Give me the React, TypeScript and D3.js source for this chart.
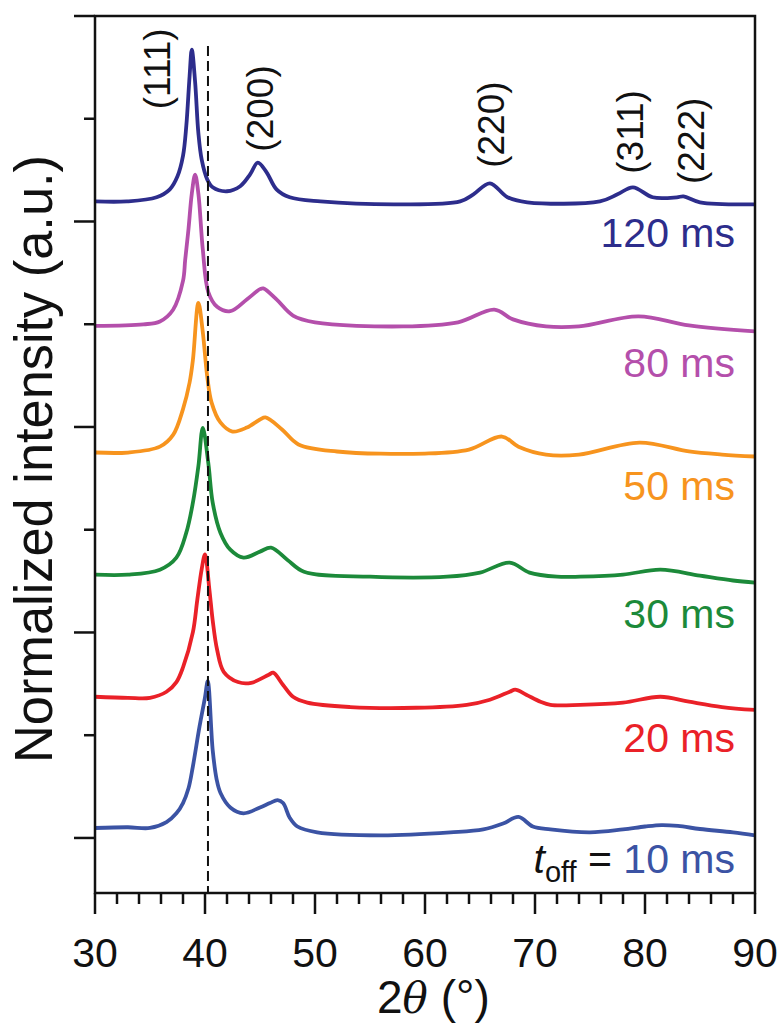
import React from 'react';
import * as d3 from 'd3';

// ---------- data ----------
const X_DOMAIN: [number, number] = [30, 90];
const Y_DOMAIN: [number, number] = [-37.5, 560];
const xMajorTicks = [30, 40, 50, 60, 70, 80, 90];
const xMinorTicks = d3.range(32, 90, 2).filter(v => v % 10 !== 0);
const yMajorTicks = [0, 140, 280, 420, 560];
const yMinorTicks = [70, 210, 350, 490];

const seriesNames = ['10 ms', '20 ms', '30 ms', '50 ms', '80 ms', '120 ms'];
const seriesColors = ['#3b53a4', '#ea2128', '#1c8a3a', '#f7941e', '#b44fab', '#2d2d8c'];
const seriesOffsets = [6.8, 96.2, 179.4, 262.6, 349.9, 435.1];

const ms10: [number, number][] = [
  [30, 0], [33, 0.5], [35, 0], [36.5, 4], [37.4, 10], [38.0, 17], [38.5, 27], [38.9, 42], [39.5, 69], [40.0, 89],
  [40.25, 100], [40.7, 53], [41.06, 33], [41.4, 24], [42.3, 14], [43.5, 10], [45.0, 14], [45.9, 17], [46.6, 19],
  [47.1, 17], [47.7, 7], [48.4, 1], [50.2, -3], [56, -5], [62.3, -3], [65.3, -1], [67.1, 3], [68.5, 7.5], [69.8, 1],
  [71.4, -1], [75, -3], [78, -1], [80, 1], [81.5, 2], [83, 1.4], [85, -0.7], [88, -3], [90, -5],
];
const ms20: [number, number][] = [
  [30, 0], [33, -0.7], [35, -0.7], [36.5, 3.4], [37.4, 10], [38.0, 20], [38.9, 44], [39.3, 66], [39.7, 87], [40.0, 97],
  [40.4, 73], [40.7, 52], [41.1, 32], [41.7, 17], [43.0, 10], [44.2, 9.5], [45.8, 15], [46.2, 16.4], [47.1, 8], [48.0, 0],
  [49.3, -4], [53.2, -7], [59.2, -7.5], [63.8, -5.5], [65.9, -2], [67.7, 3.4], [68.2, 4.8], [69.2, 1.4], [70.5, -3.4],
  [71.4, -5.5], [74.1, -5.5], [78, -4], [81.4, 0], [84, -3.4], [87, -7], [90, -9],
];
const ms30: [number, number][] = [
  [30, 0], [33, 0], [35.9, 3.4], [37.4, 11.6], [38.3, 28.6], [38.9, 49], [39.4, 74], [39.8, 100], [40.3, 76], [40.7, 49],
  [41.4, 28.6], [42.3, 17], [43.5, 11.6], [45.0, 15.7], [46.0, 18.4], [47.5, 10], [49.0, 2], [55, -1.4], [62, -1.4],
  [65, 1.4], [67.7, 8.2], [69.5, 1.4], [72, -1.4], [74.1, -1.4], [78, 0], [81.4, 3.4], [85, -0.7], [88, -4], [90, -5.5],
];
const ms50: [number, number][] = [
  [30, 0], [33, 0], [35.9, 4], [37.1, 12], [38.0, 29.6], [38.6, 47.7], [38.9, 63], [39.4, 102], [39.8, 82], [40.2, 52],
  [40.6, 34], [41.4, 20.5], [42.5, 14.3], [43.8, 17], [45.0, 22.5], [45.5, 23.9], [47.0, 15.7], [48.5, 5.5], [52, 0.7],
  [60, -0.7], [64, 2], [67, 10.9], [68.5, 4], [71, -1.4], [74, -1.4], [79.5, 6.8], [84, 0.7], [87, -1.4], [90, -2.7],
];
const ms80: [number, number][] = [
  [30, -1], [34.4, 0], [35.9, 2], [37.1, 10], [38.0, 29.6], [38.2, 44], [38.5, 65], [38.8, 89], [39.1, 102], [39.4, 89],
  [39.8, 51], [40.3, 22], [41.1, 12], [42.3, 9], [43.8, 17], [45.0, 24], [45.3, 24.5], [46.5, 17], [48, 6], [50, 1.4],
  [58, -1.4], [63, 1.4], [66.3, 10], [68, 3.4], [71, -1.4], [74, -1.4], [79.4, 5.5], [84, -0.7], [90, -4.8],
];
const ms120: [number, number][] = [
  [30, -1.4], [32.9, -1.4], [35.6, 1.4], [36.8, 6.8], [37.5, 15.7], [38.0, 29.6], [38.3, 50], [38.6, 84], [38.8, 102],
  [39.1, 80], [39.4, 45], [39.7, 27], [40.2, 13.6], [40.7, 8.2], [42.0, 5.5], [43.2, 8.9], [44.1, 17], [44.8, 25],
  [45.6, 18.4], [46.5, 6.8], [47.7, 1.4], [50.5, -1.4], [57.7, -3.4], [63.2, -1.4], [64.4, 3.4], [65.9, 10.9], [67.5, 1.4],
  [69.3, -2], [75.9, -1.4], [77.5, 3.4], [78.9, 8.2], [80.7, 1.4], [82.9, 1.4], [83.5, 2], [85, -2], [90, -3.4],
];
const seriesData = [ms10, ms20, ms30, ms50, ms80, ms120];

const peakLabels = ['(111)', '(200)', '(220)', '(311)', '(222)'];
const peakLabelTheta = [35.64, 45.09, 66.09, 78.64, 84.27];
const peakLabelValue = [524, 497, 486, 481, 475];
const referenceTheta = 40.27;

// ---------- layout ----------
const W = 783;
const H = 1023;
const LEFT = 95;
const RIGHT = 755;
const TOP = 16;
const BOTTOM = 893;
const FONT = '"Liberation Sans", Arial, Helvetica, sans-serif';
const labelBaselines = [873, 752, 628, 500, 377, 247];

export default function App() {
  const x = d3.scaleLinear().domain(X_DOMAIN).range([LEFT, RIGHT]);
  const y = d3.scaleLinear().domain(Y_DOMAIN).range([BOTTOM, TOP]);
  const line = d3
    .line<[number, number]>()
    .x(d => x(d[0]))
    .y(d => d[1])
    .curve(d3.curveCatmullRom.alpha(0.5));

  return (
    <svg
      width={W}
      height={H}
      viewBox={`0 0 ${W} ${H}`}
      style={{ position: 'absolute', left: 0, top: 0, background: '#fff' }}
      fontFamily={FONT}
    >
      {/* curves */}
      {seriesData.map((s, i) => (
        <path
          key={seriesNames[i]}
          d={line(s.map(p => [p[0], y(p[1] + seriesOffsets[i])] as [number, number])) || ''}
          fill="none"
          stroke={seriesColors[i]}
          strokeWidth={3.8}
          strokeLinejoin="round"
        />
      ))}

      {/* reference dashed line */}
      <line
        x1={x(referenceTheta)}
        x2={x(referenceTheta)}
        y1={46}
        y2={BOTTOM}
        stroke="#111"
        strokeWidth={2}
        strokeDasharray="10,5"
      />

      {/* frame */}
      <rect x={LEFT} y={TOP} width={RIGHT - LEFT} height={BOTTOM - TOP} fill="none" stroke="#111" strokeWidth={2.5} />

      {/* y ticks */}
      {yMajorTicks.map(v => (
        <line key={'ym' + v} x1={LEFT - 21} x2={LEFT} y1={y(v)} y2={y(v)} stroke="#111" strokeWidth={2.5} />
      ))}
      {yMinorTicks.map(v => (
        <line key={'yn' + v} x1={LEFT - 11} x2={LEFT} y1={y(v)} y2={y(v)} stroke="#111" strokeWidth={2.5} />
      ))}

      {/* x ticks */}
      {xMajorTicks.map(v => (
        <g key={'xm' + v}>
          <line x1={x(v)} x2={x(v)} y1={BOTTOM} y2={BOTTOM + 21} stroke="#111" strokeWidth={2.5} />
          <text x={x(v)} y={967} textAnchor="middle" fontSize={41} fill="#111">
            {v}
          </text>
        </g>
      ))}
      {xMinorTicks.map(v => (
        <line key={'xn' + v} x1={x(v)} x2={x(v)} y1={BOTTOM} y2={BOTTOM + 11} stroke="#111" strokeWidth={2.5} />
      ))}

      {/* axis titles */}
      <text x={377} y={1013} fontSize={46} fill="#111">
        <tspan>2</tspan>
        <tspan fontStyle="italic" fontFamily='"DejaVu Serif", serif' fontSize={42}>θ</tspan>
        <tspan> (°)</tspan>
      </text>
      <text
        transform="translate(52,459) rotate(-90)"
        textAnchor="middle"
        fontSize={54}
        fill="#111"
        textLength={608}
        lengthAdjust="spacingAndGlyphs"
      >
        Normalized intensity (a.u.)
      </text>

      {/* peak labels */}
      {peakLabels.map((t, i) => (
        <text
          key={t + i}
          transform={`translate(${x(peakLabelTheta[i])},${y(peakLabelValue[i])}) rotate(-90)`}
          textAnchor="middle"
          dominantBaseline="central"
          fontSize={37}
          fill="#111"
        >
          {t}
        </text>
      ))}

      {/* series labels */}
      {seriesNames.map((n, i) =>
        i === 0 ? (
          <text key={n} x={735} y={labelBaselines[i]} textAnchor="end" fontSize={41} fill="#111">
            <tspan fontStyle="italic">t</tspan>
            <tspan fontSize={29} dy={9}>off</tspan>
            <tspan dy={-9}> = </tspan>
            <tspan fill={seriesColors[i]}>{n}</tspan>
          </text>
        ) : (
          <text key={n} x={735} y={labelBaselines[i]} textAnchor="end" fontSize={41} fill={seriesColors[i]}>
            {n}
          </text>
        )
      )}
    </svg>
  );
}
